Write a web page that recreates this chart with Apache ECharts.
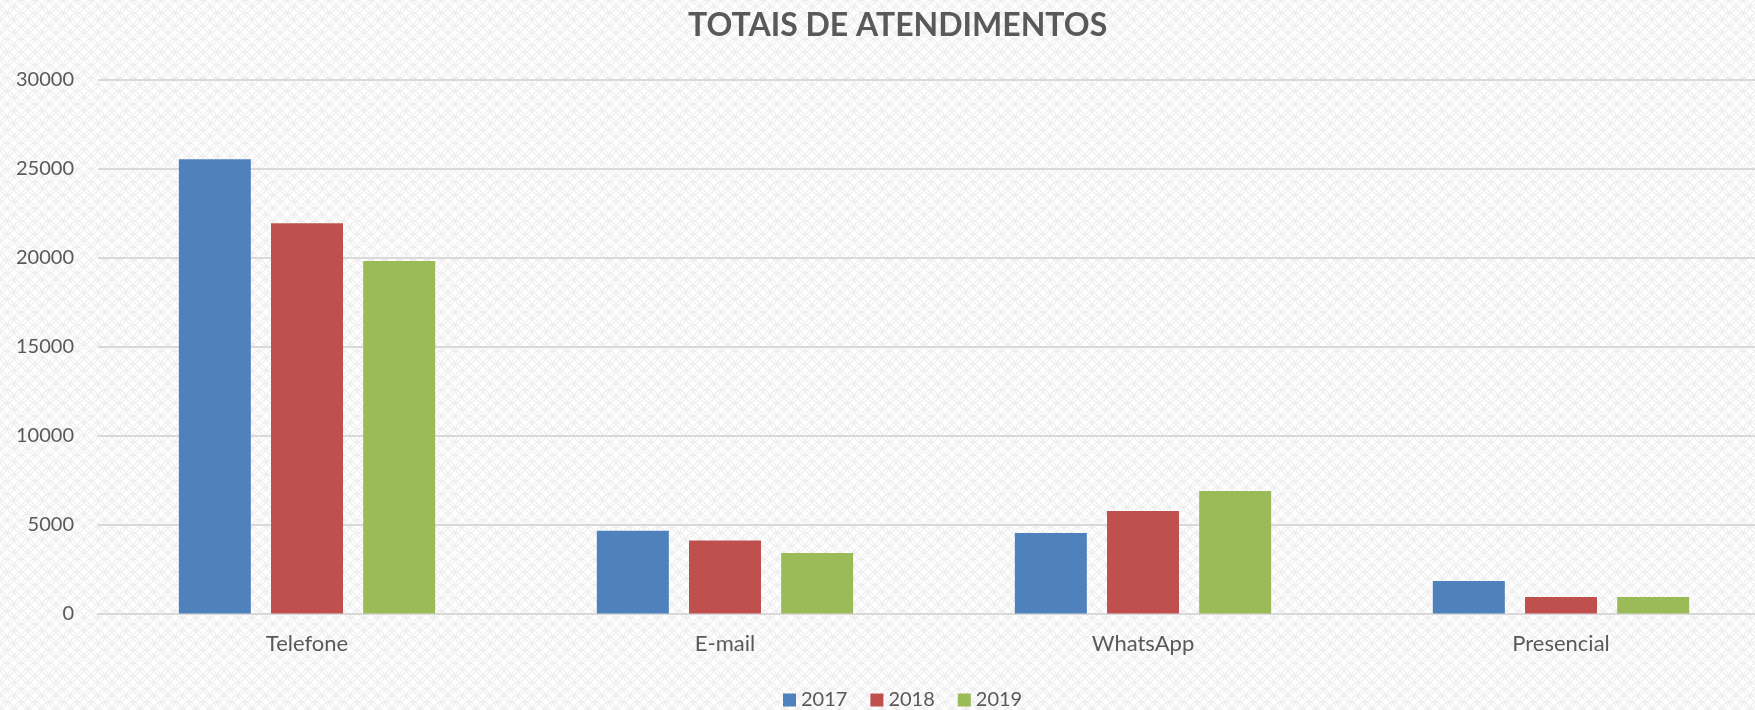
<!DOCTYPE html>
<html>
<head>
<meta charset="utf-8">
<title>Totais de atendimentos</title>
<script src="https://cdn.jsdelivr.net/npm/echarts@6/dist/echarts.min.js"></script>
<style>
  html, body { margin: 0; padding: 0; background: #fff; }
  #main { width: 1755px; height: 710px; }
</style>
</head>
<body>
<div id="main"></div>
<script>
// dados
var categories = ['Telefone', 'E-mail', 'WhatsApp', 'Presencial'];
var years = ['2017', '2018', '2019'];
var v2017 = [25550, 4650, 4530, 1830];
var v2018 = [21950, 4100, 5760, 930];
var v2019 = [19820, 3400, 6890, 930];
var yTicks = [0, 5000, 10000, 15000, 20000, 25000, 30000];

var colors = ['#4f81bd', '#c0504d', '#9bbb59'];
var font = 'Lato, "Open Sans", sans-serif';

// fundo com padrão de escamas bem claro
function makePattern() {
  var c = document.createElement('canvas');
  c.width = 14;
  c.height = 13;
  var ctx = c.getContext('2d');
  ctx.fillStyle = '#ffffff';
  ctx.fillRect(0, 0, 14, 13);
  ctx.strokeStyle = '#eeeeee';
  ctx.lineWidth = 1.2;
  var pts = [[0, 0], [14, 0], [7, 6.5], [0, 13], [14, 13]];
  pts.forEach(function (p) {
    ctx.beginPath();
    ctx.arc(p[0], p[1], 6.5, 0, Math.PI * 2);
    ctx.stroke();
  });
  return c;
}

var myChart = echarts.init(document.getElementById('main'));

var seriesData = [v2017, v2018, v2019];

myChart.setOption({
  backgroundColor: { image: makePattern(), repeat: 'repeat' },
  animation: false,
  color: colors,
  title: {
    text: 'TOTAIS DE ATENDIMENTOS',
    left: 688,
    top: 10,
    padding: 0,
    textStyle: {
      fontFamily: font,
      fontSize: 32,
      fontWeight: 'bold',
      color: '#595959'
    }
  },
  legend: {
    data: years,
    left: 783,
    top: 690,
    padding: 0,
    icon: 'rect',
    itemWidth: 13,
    itemHeight: 13,
    itemGap: 23,
    textStyle: { fontFamily: font, fontSize: 20, color: '#595959', padding: [0, 0, 0, 0] }
  },
  grid: {
    left: 98,
    top: 80,
    width: 1672,
    bottom: 96.5,
    containLabel: false,
    outerBoundsMode: 'none'
  },
  xAxis: {
    type: 'category',
    data: categories,
    axisTick: { show: false },
    axisLine: { show: true, lineStyle: { color: '#d9d9d9', width: 2 } },
    axisLabel: { fontFamily: font, fontSize: 22, color: '#595959', margin: 19 }
  },
  yAxis: {
    type: 'value',
    min: yTicks[0],
    max: yTicks[yTicks.length - 1],
    interval: 5000,
    axisLine: { show: false },
    axisTick: { show: false },
    axisLabel: {
      fontFamily: font,
      fontSize: 20,
      color: '#595959',
      margin: 24,
      formatter: function (v) { return String(v); }
    },
    splitLine: { lineStyle: { color: '#d9d9d9', width: 2 } }
  },
  series: years.map(function (y, i) {
    return {
      name: y,
      type: 'bar',
      barWidth: 72,
      barGap: '28%',
      data: seriesData[i]
    };
  })
});
</script>
</body>
</html>
